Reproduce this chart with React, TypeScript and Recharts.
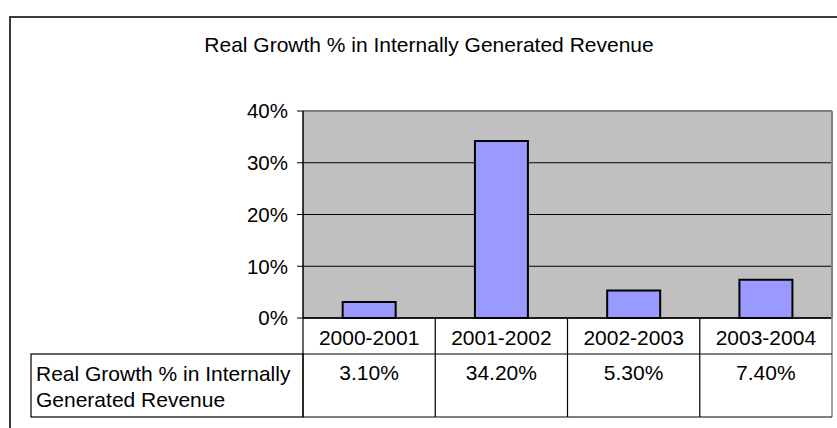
import { Bar, BarChart, CartesianGrid, ReferenceLine, XAxis, YAxis } from "recharts"

const title = "Real Growth % in Internally Generated Revenue"
const seriesLines = ["Real Growth % in Internally", "Generated Revenue"]
const periods = ["2000-2001", "2001-2002", "2002-2003", "2003-2004"]
const growth = [0.031, 0.342, 0.053, 0.074]
const growthLabels = ["3.10%", "34.20%", "5.30%", "7.40%"]
const yTicks = [0, 0.1, 0.2, 0.3, 0.4]

const data = periods.map((p, i) => ({ period: p, value: growth[i] }))

// layout
const W = 837
const H = 428
const FONT = "'Liberation Sans', Arial, sans-serif"
const PLOT_LEFT = 303
const PLOT_RIGHT = 832
const PLOT_TOP = 111
const PLOT_BOTTOM = 318
const Y_AXIS_W = 60
const ROW1_BOTTOM = 354
const ROW2_BOTTOM = 417
const TABLE_LEFT = 31
const COL_W = (PLOT_RIGHT - PLOT_LEFT) / periods.length

function TableTick(props: any) {
  const { x, payload } = props
  const i = periods.indexOf(payload.value)
  const left = x - COL_W / 2
  const right = x + COL_W / 2
  const textStyle = { fontFamily: FONT, fontSize: 21, fill: "#000" }
  return (
    <g>
      <line x1={left} y1={PLOT_BOTTOM} x2={left} y2={ROW2_BOTTOM} stroke="#000" strokeWidth={1.2} />
      {i === periods.length - 1 && (
        <line x1={right} y1={PLOT_BOTTOM} x2={right} y2={ROW2_BOTTOM} stroke="#808080" strokeWidth={1.5} />
      )}
      <line x1={left} y1={ROW1_BOTTOM} x2={right} y2={ROW1_BOTTOM} stroke="#000" strokeWidth={1.2} />
      <line x1={left} y1={ROW2_BOTTOM} x2={right} y2={ROW2_BOTTOM} stroke="#000" strokeWidth={1.2} />
      <text x={x} y={345} textAnchor="middle" style={textStyle}>
        {payload.value}
      </text>
      <text x={x} y={380} textAnchor="middle" style={textStyle}>
        {growthLabels[i]}
      </text>
      {i === 0 && (
        <g>
          <rect
            x={TABLE_LEFT}
            y={ROW1_BOTTOM}
            width={left - TABLE_LEFT}
            height={ROW2_BOTTOM - ROW1_BOTTOM}
            fill="none"
            stroke="#000"
            strokeWidth={1.2}
          />
          {seriesLines.map((s, k) => (
            <text key={s} x={TABLE_LEFT + 5} y={381 + k * 26} style={textStyle}>
              {s}
            </text>
          ))}
        </g>
      )}
    </g>
  )
}

export default function App() {
  return (
    <div style={{ position: "absolute", left: 0, top: 0, width: W, height: H, overflow: "hidden", background: "#fff" }}>
      <svg width={W} height={H} style={{ position: "absolute", left: 0, top: 0 }}>
        <rect x={10} y={17} width={900} height={500} fill="#fff" stroke="#3a3a3a" strokeWidth={2} />
        <text x={429} y={52} textAnchor="middle" style={{ fontFamily: FONT, fontSize: 21, fill: "#000" }}>
          {title}
        </text>
      </svg>
      <div style={{ position: "absolute", left: 0, top: 0 }}>
        <BarChart
          width={W}
          height={H}
          data={data}
          barCategoryGap="30%"
          margin={{ top: PLOT_TOP, right: W - PLOT_RIGHT - 1, bottom: 0, left: PLOT_LEFT - Y_AXIS_W }}
        >
          <CartesianGrid fill="#c0c0c0" vertical={false} stroke="#000" strokeWidth={1.2} />
          <XAxis
            dataKey="period"
            height={H - PLOT_BOTTOM}
            interval={0}
            tickLine={false}
            axisLine={{ stroke: "#000", strokeWidth: 1.5 }}
            tick={<TableTick />}
          />
          <YAxis
            width={Y_AXIS_W}
            domain={[0, 0.4]}
            ticks={yTicks}
            tickFormatter={(v: number) => `${Math.round(v * 100)}%`}
            tickSize={6}
            tickMargin={9}
            axisLine={{ stroke: "#000", strokeWidth: 1.5 }}
            tickLine={{ stroke: "#000" }}
            tick={{ fill: "#000", fontSize: 20.5, fontFamily: FONT }}
          />
          <YAxis
            yAxisId="right"
            orientation="right"
            width={1}
            domain={[0, 0.4]}
            tick={false}
            tickLine={false}
            axisLine={{ stroke: "#808080", strokeWidth: 2 }}
          />
          <ReferenceLine y={0.4} stroke="#808080" strokeWidth={2} />
          <Bar dataKey="value" fill="#9999ff" stroke="#000" strokeWidth={2} isAnimationActive={false} />
        </BarChart>
      </div>
    </div>
  )
}
